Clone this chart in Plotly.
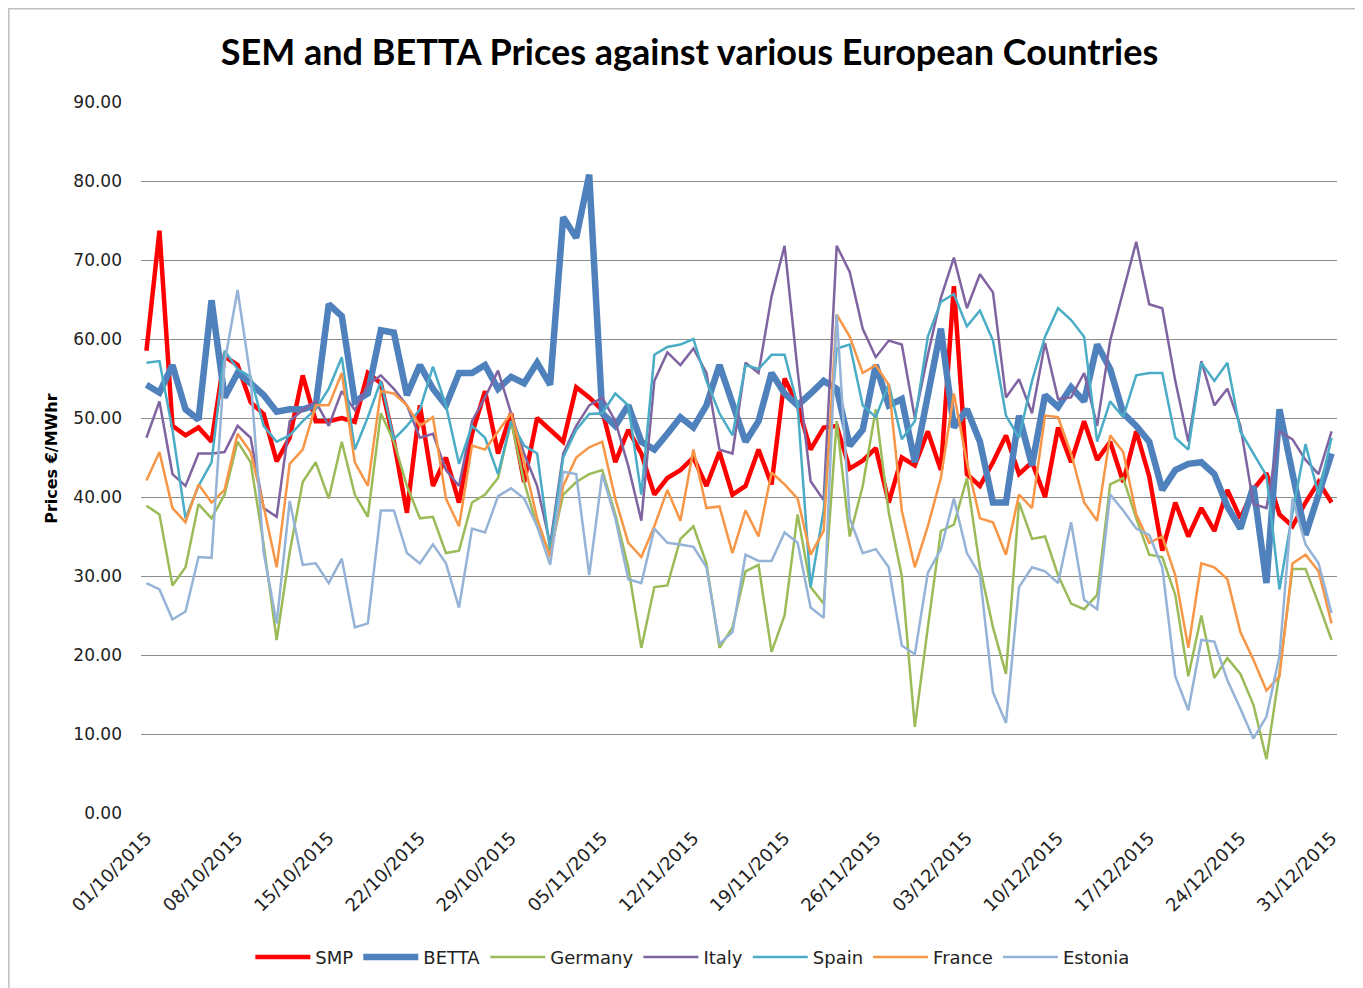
import pandas as pd
import plotly.graph_objects as go

# daily dates 01/10/2015 .. 31/12/2015
dates = pd.date_range("2015-10-01", "2015-12-31", freq="D")

smp = [58.5, 73.7, 49.0, 47.8, 48.8, 47.0, 57.8, 56.7, 52.0, 50.5, 44.5, 47.5, 55.4, 49.6, 49.6, 50.0,
       49.5, 55.7, 54.4, 47.0, 38.0, 51.6, 41.4, 45.0, 39.3, 48.0, 53.4, 45.5, 50.6, 41.9, 50.0, 48.5,
       47.0, 53.9, 52.6, 51.0, 44.4, 48.5, 45.5, 40.3, 42.4, 43.4, 45.0, 41.4, 45.7, 40.3, 41.4, 46.0,
       41.6, 55.0, 51.6, 46.0, 48.8, 49.0, 43.6, 44.6, 46.2, 39.3, 45.0, 44.0, 48.3, 43.4, 66.7, 42.9,
       41.4, 44.4, 47.8, 42.9, 44.4, 40.0, 48.8, 44.4, 49.6, 44.7, 47.0, 41.9, 48.3, 42.6, 33.2, 39.3,
       35.0, 38.6, 35.7, 40.9, 37.3, 41.0, 43.0, 37.8, 36.3, 39.3, 41.9, 39.3]

betta = [54.2, 53.2, 56.7, 51.1, 49.8, 64.9, 52.6, 55.7, 54.4, 52.9, 50.8, 51.1, 51.1, 51.6, 64.4, 62.9,
         52.1, 53.1, 61.1, 60.8, 52.9, 56.7, 53.7, 51.6, 55.7, 55.7, 56.7, 53.7, 55.2, 54.4, 57.0, 54.2,
         75.4, 72.8, 80.8, 50.6, 49.0, 51.6, 47.0, 46.0, 48.0, 50.1, 48.8, 51.6, 56.7, 52.0, 47.0, 49.6,
         55.7, 53.1, 51.6, 53.1, 54.7, 53.7, 46.5, 48.5, 56.7, 51.6, 52.4, 44.4, 52.6, 61.3, 48.8, 51.1,
         47.0, 39.3, 39.3, 50.3, 44.0, 52.9, 51.4, 53.9, 52.1, 59.3, 56.2, 50.6, 49.0, 47.0, 40.9, 43.4,
         44.2, 44.4, 42.9, 38.8, 36.0, 41.4, 29.1, 51.1, 43.0, 35.2, 40.3, 45.5]

germany = [38.9, 37.8, 28.8, 31.1, 39.1, 37.3, 40.3, 47.0, 44.4, 34.0, 21.9, 33.0, 41.9, 44.4, 39.8, 47.0,
           40.3, 37.5, 50.6, 47.0, 41.4, 37.3, 37.5, 32.9, 33.2, 39.3, 40.3, 42.4, 49.6, 41.9, 36.3, 32.9,
           40.3, 41.9, 42.9, 43.4, 37.8, 31.1, 20.9, 28.6, 28.8, 34.7, 36.3, 31.6, 20.9, 23.5, 30.6, 31.4,
           20.4, 25.0, 37.8, 28.6, 26.5, 49.6, 35.0, 41.4, 51.1, 38.0, 30.0, 10.9, 23.5, 35.7, 36.5, 42.4,
           31.1, 23.5, 17.6, 39.3, 34.7, 35.0, 30.1, 26.5, 25.8, 27.6, 41.6, 42.4, 37.3, 32.7, 32.4, 27.6,
           17.3, 25.0, 17.1, 19.6, 17.6, 13.7, 6.8, 17.8, 30.9, 30.9, 26.5, 21.9]

italy = [47.5, 52.1, 42.9, 41.4, 45.5, 45.5, 45.7, 49.0, 47.5, 38.6, 37.5, 49.6, 51.0, 52.1, 49.0, 53.4,
         51.0, 54.2, 55.4, 53.7, 51.6, 47.5, 48.0, 43.4, 41.4, 49.6, 52.6, 56.0, 50.6, 45.5, 41.4, 34.0,
         45.5, 49.0, 51.6, 52.6, 49.6, 43.9, 37.0, 54.7, 58.3, 56.7, 58.8, 55.7, 46.0, 45.5, 57.0, 55.7,
         65.4, 71.8, 56.0, 42.0, 39.6, 71.8, 68.5, 61.3, 57.7, 59.8, 59.3, 50.0, 58.0, 65.2, 70.3, 63.9,
         68.2, 65.9, 52.6, 54.9, 50.6, 59.5, 52.4, 52.6, 55.7, 49.0, 59.8, 65.9, 72.3, 64.4, 63.9, 54.7,
         47.0, 57.2, 51.6, 53.7, 49.0, 39.1, 38.6, 48.3, 47.3, 44.7, 42.9, 48.3]

spain = [57.0, 57.2, 48.5, 37.3, 41.4, 44.4, 58.5, 56.2, 55.2, 49.0, 47.0, 47.8, 49.6, 51.1, 53.7, 57.7,
         46.0, 50.1, 54.7, 47.3, 49.0, 51.1, 56.5, 51.6, 44.2, 49.0, 47.5, 42.9, 49.6, 46.5, 45.5, 33.2,
         45.0, 48.5, 50.5, 50.6, 53.1, 51.6, 40.3, 58.0, 59.0, 59.3, 60.0, 54.7, 50.6, 47.8, 56.7, 56.2,
         58.0, 58.0, 51.6, 28.6, 38.3, 58.8, 59.3, 51.6, 50.1, 54.3, 47.3, 49.6, 60.3, 64.7, 65.7, 61.6,
         63.6, 59.8, 50.3, 47.5, 54.7, 60.3, 63.9, 62.4, 60.3, 47.0, 52.1, 50.1, 55.4, 55.7, 55.7, 47.5,
         46.0, 57.0, 54.7, 57.0, 48.3, 45.5, 42.7, 28.3, 38.0, 46.7, 40.3, 47.5]

france = [42.1, 45.7, 38.6, 36.8, 41.6, 39.3, 40.9, 48.0, 45.7, 38.8, 31.1, 44.2, 46.0, 51.6, 51.6, 55.7,
          44.4, 41.4, 53.4, 53.1, 51.6, 49.0, 50.1, 39.8, 36.3, 46.5, 46.0, 48.3, 50.6, 44.4, 37.3, 32.4,
          41.4, 45.0, 46.3, 47.0, 39.8, 34.2, 32.4, 36.3, 40.9, 37.0, 46.0, 38.6, 38.8, 32.9, 38.3, 35.0,
          43.1, 41.6, 39.8, 32.7, 35.7, 63.1, 60.3, 55.7, 56.7, 54.2, 38.3, 31.1, 36.3, 42.4, 53.1, 44.4,
          37.3, 36.8, 32.7, 40.3, 38.6, 50.3, 50.1, 45.5, 39.3, 37.0, 47.8, 45.7, 37.8, 34.2, 35.0, 30.1,
          20.9, 31.6, 31.1, 29.6, 22.9, 19.4, 15.5, 17.3, 31.6, 32.7, 30.6, 24.0]

estonia = [29.1, 28.3, 24.5, 25.5, 32.4, 32.3, 57.0, 66.2, 55.0, 33.0, 24.0, 39.5, 31.4, 31.6, 29.1, 32.2,
           23.5, 24.0, 38.3, 38.3, 32.9, 31.6, 34.0, 31.6, 26.0, 36.0, 35.5, 40.1, 41.1, 39.8, 36.3, 31.4,
           43.2, 42.9, 30.1, 42.9, 37.3, 29.6, 29.1, 36.0, 34.2, 34.0, 33.7, 31.1, 21.4, 22.9, 32.7, 31.9,
           31.9, 35.5, 34.2, 26.0, 24.7, 63.1, 37.3, 32.9, 33.4, 31.1, 21.2, 20.1, 30.4, 33.4, 39.8, 32.9,
           30.1, 15.3, 11.4, 28.6, 31.1, 30.6, 29.1, 36.8, 27.0, 25.8, 40.3, 38.3, 36.0, 35.2, 31.1, 17.3,
           13.0, 21.9, 21.7, 16.8, 13.2, 9.4, 12.2, 19.9, 39.8, 34.0, 31.6, 25.3]

series = [
    ("SMP", smp, "#FF0000", 4.5),
    ("BETTA", betta, "#4F81BD", 6.5),
    ("Germany", germany, "#9BBB59", 2.5),
    ("Italy", italy, "#8064A2", 2.5),
    ("Spain", spain, "#4BACC6", 2.5),
    ("France", france, "#F79646", 2.5),
    ("Estonia", estonia, "#95B3D7", 2.5),
]

fig = go.Figure()
for name, vals, col, w in series:
    fig.add_trace(go.Scatter(x=dates, y=vals, mode="lines", name=name,
                             line=dict(color=col, width=w)))

tick_font = "'DejaVu Sans', Verdana, sans-serif"
title_font = "Lato, 'Open Sans', sans-serif"

fig.update_layout(
    width=1355, height=980,
    paper_bgcolor="white", plot_bgcolor="white",
    margin=dict(l=133, r=26, t=94, b=173),
    font=dict(family=tick_font, size=16, color="#222222"),
    title=dict(text="<b>SEM and BETTA Prices against various European Countries</b>",
               x=0.503, y=0.955, xanchor="center", yanchor="middle",
               font=dict(family=title_font, size=36, color="black")),
    xaxis=dict(
        type="date",
        range=["2015-09-30 14:00", "2015-12-31 10:00"],
        tick0="2015-10-01", dtick=7 * 86400000,
        tickformat="%d/%m/%Y", tickangle=-45,
        showgrid=False, showline=False, zeroline=False,
        ticks="", tickfont=dict(size=18, color="#222222"),
        ticklabelstandoff=10,
    ),
    yaxis=dict(
        range=[0, 90], dtick=10, tickformat=".2f",
        showgrid=True, gridcolor="#8c8c8c", gridwidth=1,
        showline=False, zeroline=False, ticks="",
        tickfont=dict(size=17, color="#222222"),
        ticklabelstandoff=18,
    ),
    legend=dict(orientation="h", x=0.461, xanchor="center", y=-0.203, yanchor="middle",
                font=dict(size=18, color="#222222"), itemwidth=55, tracegroupgap=0),
    showlegend=True,
)

fig.add_annotation(text="<b>Prices €/MWhr</b>", textangle=-90, xref="paper", yref="paper",
                   x=-0.0745, y=0.498, xanchor="center", yanchor="middle", showarrow=False,
                   font=dict(family=tick_font, size=16, color="black"))

# outer chart border
fig.add_shape(type="rect", xref="paper", yref="paper", x0=-0.1105, y0=-0.26, x1=1.03, y1=1.131,
              line=dict(color="#bfbfbf", width=1.5), layer="below")

fig.write_html("out.html")
